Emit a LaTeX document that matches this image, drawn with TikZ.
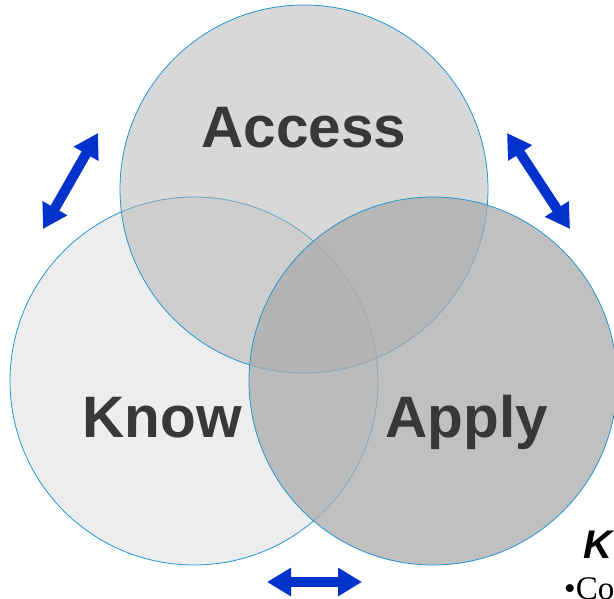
\documentclass[tikz,border=0pt]{standalone}
\usepackage{fontspec}
\setmainfont{Liberation Serif}
\setsansfont{Liberation Sans}
\usetikzlibrary{arrows.meta}
\definecolor{rim}{HTML}{2196D3}
\definecolor{knowfill}{HTML}{EDEDED}
\definecolor{accessfill}{HTML}{B1B1B1}
\definecolor{applyfill}{HTML}{ABABAB}
\definecolor{wordgray}{HTML}{383838}
\definecolor{arrowblue}{HTML}{0033CC}
\tikzstyle{ring} = [circle, draw=rim, line width=0.8pt, minimum size=368pt, inner sep=0pt]
\tikzstyle{word} = [anchor=base, text=wordgray, font=\sffamily\bfseries\fontsize{58.5}{58.5}\selectfont]
\tikzstyle{link} = [draw=arrowblue, line width=10pt, {Triangle[length=24pt,width=27pt]}-{Triangle[length=24pt,width=27pt]}]

\begin{document}
\begin{tikzpicture}[x=1pt, y=-1pt]
			\useasboundingbox (0,0) rectangle (614,599);

			\node [ring, fill=knowfill] (know) at (194,381) {};
			\node [ring, fill=accessfill, fill opacity=0.5] (access) at (304,189) {};
			\node [ring, fill=applyfill, fill opacity=0.75] (apply) at (433,381) {};

			\node [word] (accesstext) at (304,148) {Access};
			\node [word] (knowtext) at (162,437) {Know};
			\node [word] (applytext) at (467,437) {Apply};

			\coordinate (ak) at (43,229);
			\coordinate (ka) at (98,133);
			\coordinate (ap) at (507,133);
			\coordinate (pa) at (570,229);
			\coordinate (kp) at (267,582);
			\coordinate (pk) at (362,582);

			\path [link] (ak) -- (ka);
			\path [link] (ap) -- (pa);
			\path [link] (kp) -- (pk);

			\node [anchor=base west, inner sep=0pt, font=\sffamily\bfseries\itshape\fontsize{40}{40}\selectfont] (keyhead) at (583,558) {K};
			\node [anchor=base west, inner sep=0pt, font=\fontsize{33}{33}\selectfont] (keyitem) at (564,599) {•Co};
		\end{tikzpicture}
\end{document}
